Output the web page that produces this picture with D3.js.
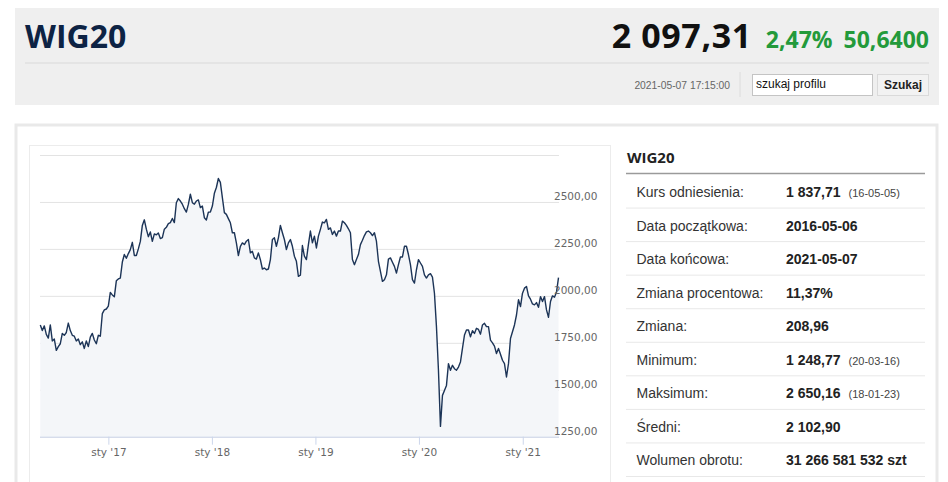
<!DOCTYPE html>
<html>
<head>
<meta charset="utf-8">
<script src="https://cdn.jsdelivr.net/npm/d3@7"></script>
<style>
  body { margin: 0; background: #fff; }
  svg { display: block; }
</style>
</head>
<body>
<svg id="chart" width="948" height="482"></svg>
<script>
// WIG20, notowania tygodniowe 2016-05-06 .. 2021-05-07
const startDate = '2016-05-06';
const endDate = '2021-05-07';
const closes = [
  1845, 1815, 1840, 1795, 1775, 1845, 1760, 1770, 1710, 1730,
  1745, 1800, 1790, 1805, 1855, 1815, 1790, 1785, 1760, 1770,
  1740, 1755, 1720, 1760, 1730, 1780, 1800, 1765, 1745, 1790,
  1785, 1905, 1925, 1930, 1945, 2018, 2005, 1995, 2080, 2090,
  2095, 2180, 2220, 2200, 2225, 2246, 2285, 2215, 2215, 2250,
  2290, 2375, 2405, 2355, 2315, 2340, 2290, 2330, 2325, 2335,
  2305, 2310, 2355, 2365, 2385, 2390, 2412, 2390, 2496, 2518,
  2505, 2488, 2464, 2446, 2487, 2541, 2496, 2488, 2505, 2511,
  2470, 2478, 2416, 2404, 2446, 2446, 2478, 2546, 2577, 2625,
  2604, 2523, 2443, 2434, 2411, 2389, 2336, 2336, 2282, 2214,
  2264, 2282, 2273, 2291, 2300, 2229, 2237, 2202, 2196, 2229,
  2193, 2143, 2148, 2139, 2143, 2193, 2300, 2309, 2264, 2309,
  2375, 2336, 2300, 2246, 2282, 2300, 2264, 2211, 2184, 2104,
  2110, 2268, 2211, 2193, 2273, 2345, 2282, 2318, 2255, 2318,
  2354, 2393, 2389, 2407, 2354, 2362, 2327, 2345, 2318, 2345,
  2345, 2398, 2389, 2375, 2357, 2336, 2193, 2166, 2193, 2220,
  2273, 2296, 2321, 2341, 2345, 2336, 2321, 2336, 2291, 2184,
  2130, 2077, 2086, 2112, 2196, 2202, 2179, 2157, 2121, 2166,
  2207, 2207, 2264, 2264, 2220, 2166, 2086, 2068, 2139, 2193,
  2175, 2157, 2112, 2095, 2112, 2118, 2100, 2014, 1836, 1604,
  1305, 1470, 1496, 1523, 1639, 1604, 1630, 1612, 1604, 1621,
  1648, 1720, 1791, 1818, 1818, 1782, 1814, 1800, 1827, 1821,
  1796, 1845, 1854, 1836, 1836, 1764, 1750, 1732, 1693, 1720,
  1689, 1657, 1639, 1568, 1639, 1773, 1809, 1845, 1898, 1979,
  1943, 2014, 2041, 2050, 2000, 1982, 1957, 1952, 1964, 1939,
  1996, 1970, 1996, 1925, 1886, 1970, 2000, 1993, 2020, 2097
];
const gridTicks = [1250, 1500, 1750, 2000, 2250, 2500, 2750];
const labelTicks = [1250, 1500, 1750, 2000, 2250, 2500];
const xTickDates = ['2017-01-01', '2018-01-01', '2019-01-01', '2020-01-01', '2021-01-01'];
const xTickLabels = ["sty '17", "sty '18", "sty '19", "sty '20", "sty '21"];

const statLabels = ['Kurs odniesienia:', 'Data początkowa:', 'Data końcowa:', 'Zmiana procentowa:',
  'Zmiana:', 'Minimum:', 'Maksimum:', 'Średni:', 'Wolumen obrotu:'];
const statValues = ['1 837,71', '2016-05-06', '2021-05-07', '11,37%',
  '208,96', '1 248,77', '2 650,16', '2 102,90', '31 266 581 532 szt'];
const statNotes = ['(16-05-05)', '', '', '', '', '(20-03-16)', '(18-01-23)', '', ''];

const svg = d3.select('#chart');
const sans = 'Arial, "Liberation Sans", sans-serif';
const open = '"Open Sans", sans-serif';

// --- header ---
svg.append('rect').attr('x', 15).attr('y', 8).attr('width', 924).attr('height', 97).attr('fill', '#efefef');
svg.append('text').attr('x', 25).attr('y', 48).text('WIG20')
  .attr('font-family', open).attr('font-weight', 'bold').attr('font-size', 32).attr('fill', '#0d2344');
svg.append('line').attr('x1', 25).attr('x2', 929).attr('y1', 63).attr('y2', 63).attr('stroke', '#d9d9d9');

const head = svg.append('text').attr('x', 929).attr('y', 48).attr('text-anchor', 'end')
  .attr('font-family', open).attr('font-weight', 'bold');
head.append('tspan').text('2 097,31').attr('font-size', 34).attr('letter-spacing', 0.6).attr('fill', '#111');
head.append('tspan').text('2,47%').attr('dx', 14).attr('font-size', 23).attr('letter-spacing', 0).attr('fill', '#239a3b');
head.append('tspan').text('50,6400').attr('dx', 11).attr('font-size', 23).attr('fill', '#239a3b');

svg.append('text').attr('x', 730).attr('y', 89).attr('text-anchor', 'end').text('2021-05-07 17:15:00')
  .attr('font-family', sans).attr('font-size', 10.3).attr('fill', '#666');
svg.append('line').attr('x1', 740).attr('x2', 740).attr('y1', 72).attr('y2', 97).attr('stroke', '#dcdcdc');
svg.append('rect').attr('x', 752.5).attr('y', 74.5).attr('width', 120).attr('height', 21)
  .attr('fill', '#fff').attr('stroke', '#c4c4c4');
svg.append('text').attr('x', 756).attr('y', 88).text('szukaj profilu')
  .attr('font-family', sans).attr('font-size', 12).attr('fill', '#111');
svg.append('rect').attr('x', 877.5).attr('y', 74.5).attr('width', 51).attr('height', 21)
  .attr('fill', '#f2f2f2').attr('stroke', '#dadada');
svg.append('text').attr('x', 903).attr('y', 89).attr('text-anchor', 'middle').text('Szukaj')
  .attr('font-family', sans).attr('font-weight', 'bold').attr('font-size', 12).attr('fill', '#222');

// --- panel ---
svg.append('rect').attr('x', 16).attr('y', 125).attr('width', 921).attr('height', 380)
  .attr('fill', '#fff').attr('stroke', '#e9e9e9').attr('stroke-width', 3);
svg.append('rect').attr('x', 29.5).attr('y', 145.5).attr('width', 581).attr('height', 360)
  .attr('fill', 'none').attr('stroke', '#ececec');

// --- chart ---
const parse = d3.utcParse('%Y-%m-%d');
const t0 = parse(startDate), t1 = parse(endDate);
const dates = d3.range(closes.length).map(i => new Date(+t0 + (t1 - t0) * i / (closes.length - 1)));
const series = closes.map((v, i) => ({ date: dates[i], value: v }));

const x = d3.scaleUtc().domain([t0, t1]).range([40.3, 558.5]);
const y = d3.scaleLinear().domain([1250, 2750]).range([436.7, 155]);
const pl = d3.formatLocale({ decimal: ',', thousands: ' ', grouping: [3], currency: ['', ''] });
const fmt = pl.format('.2f');

const grid = svg.append('g').attr('transform', 'translate(40,0)')
  .call(d3.axisLeft(y).tickValues(gridTicks).tickSize(-519).tickFormat(''));
grid.select('.domain').remove();
grid.selectAll('line').attr('stroke', '#e3e3e3');

svg.append('path').datum(series)
  .attr('fill', '#f4f6f9')
  .attr('d', d3.area().x(d => x(d.date)).y0(y(1250)).y1(d => y(d.value)));
svg.append('path').datum(series)
  .attr('fill', 'none').attr('stroke', '#1c3457').attr('stroke-width', 1.4).attr('stroke-linejoin', 'round')
  .attr('d', d3.line().x(d => x(d.date)).y(d => y(d.value)));

const yAxis = svg.append('g').attr('transform', 'translate(554,0)')
  .call(d3.axisRight(y).tickValues(labelTicks).tickSize(0).tickFormat(fmt));
yAxis.select('.domain').remove();
yAxis.selectAll('text').attr('x', 0).attr('dy', '-0.2em')
  .attr('font-family', '"DejaVu Sans", sans-serif').attr('font-size', 10.5).attr('fill', '#666');

const xAxis = svg.append('g').attr('transform', `translate(0,${y(1250)})`)
  .call(d3.axisBottom(x).tickValues(xTickDates.map(parse)).tickSize(8)
    .tickFormat((d, i) => xTickLabels[i]));
xAxis.select('.domain').attr('stroke', '#ccd6eb').attr('d', 'M40,0.5H559');
xAxis.selectAll('line').attr('stroke', '#ccd6eb');
xAxis.selectAll('text').attr('y', 12).attr('font-family', '"DejaVu Sans", sans-serif')
  .attr('font-size', 10.5).attr('fill', '#666');

// --- stats table ---
svg.append('text').attr('x', 627).attr('y', 163).text('WIG20')
  .attr('font-family', open).attr('font-weight', 'bold').attr('font-size', 15).attr('fill', '#222');
svg.append('line').attr('x1', 626).attr('x2', 925).attr('y1', 173.5).attr('y2', 173.5)
  .attr('stroke', '#9a9a9a').attr('stroke-width', 1.3);

const rowY = d3.scaleBand().domain(d3.range(statLabels.length)).range([174, 476]);
const rows = svg.append('g').selectAll('g').data(statLabels).join('g')
  .attr('transform', (d, i) => `translate(0,${rowY(i)})`);
rows.append('line').attr('x1', 626).attr('x2', 925).attr('y1', rowY.bandwidth() + 0.5)
  .attr('y2', rowY.bandwidth() + 0.5).attr('stroke', '#e8e8e8');
rows.append('text').attr('x', 636.5).attr('y', 23).text(d => d)
  .attr('font-family', sans).attr('font-size', 14).attr('fill', '#333');
const vals = rows.append('text').attr('x', 786).attr('y', 23)
  .attr('font-family', sans).attr('font-size', 14);
vals.append('tspan').text((d, i) => statValues[i]).attr('font-weight', 'bold').attr('fill', '#222');
vals.append('tspan').text((d, i) => statNotes[i]).attr('dx', 8).attr('font-size', 11).attr('fill', '#444');
</script>
</body>
</html>
